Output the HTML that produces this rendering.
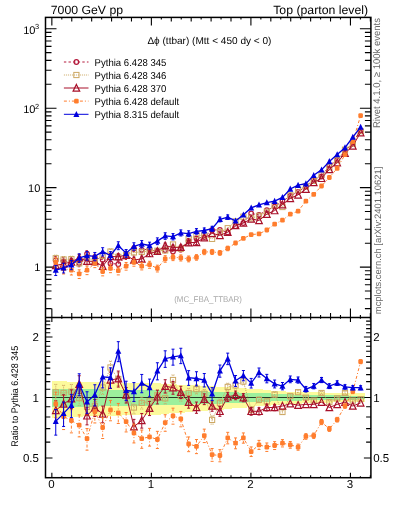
<!DOCTYPE html><html><head><meta charset="utf-8"><style>html,body{margin:0;padding:0;width:393px;height:512px;overflow:hidden;background:#fff}</style></head><body><svg width="393" height="512" viewBox="0 0 393 512" text-rendering="geometricPrecision" style="position:absolute;left:0;top:0;will-change:transform;font-family:'Liberation Sans', sans-serif">
<rect width="393" height="512" fill="#fff"/>
<g stroke="#000" stroke-width="1.5" fill="none">
<rect x="45.5" y="17.4" width="325.4" height="460.3"/>
<line x1="45.5" y1="317.5" x2="370.9" y2="317.5"/>
</g>
<path d="M51.85 17.40L51.85 25.40 M51.85 317.50L51.85 308.50 M51.85 317.50L51.85 322.00 M51.85 477.70L51.85 472.70 M61.80 17.40L61.80 19.40 M61.80 317.50L61.80 315.00 M61.80 317.50L61.80 318.85 M61.80 477.70L61.80 476.20 M71.76 17.40L71.76 21.40 M71.76 317.50L71.76 313.00 M71.76 317.50L71.76 319.75 M71.76 477.70L71.76 475.20 M81.71 17.40L81.71 19.40 M81.71 317.50L81.71 315.00 M81.71 317.50L81.71 318.85 M81.71 477.70L81.71 476.20 M91.66 17.40L91.66 21.40 M91.66 317.50L91.66 313.00 M91.66 317.50L91.66 319.75 M91.66 477.70L91.66 475.20 M101.62 17.40L101.62 19.40 M101.62 317.50L101.62 315.00 M101.62 317.50L101.62 318.85 M101.62 477.70L101.62 476.20 M111.57 17.40L111.57 21.40 M111.57 317.50L111.57 313.00 M111.57 317.50L111.57 319.75 M111.57 477.70L111.57 475.20 M121.52 17.40L121.52 19.40 M121.52 317.50L121.52 315.00 M121.52 317.50L121.52 318.85 M121.52 477.70L121.52 476.20 M131.47 17.40L131.47 21.40 M131.47 317.50L131.47 313.00 M131.47 317.50L131.47 319.75 M131.47 477.70L131.47 475.20 M141.43 17.40L141.43 19.40 M141.43 317.50L141.43 315.00 M141.43 317.50L141.43 318.85 M141.43 477.70L141.43 476.20 M151.38 17.40L151.38 25.40 M151.38 317.50L151.38 308.50 M151.38 317.50L151.38 322.00 M151.38 477.70L151.38 472.70 M161.33 17.40L161.33 19.40 M161.33 317.50L161.33 315.00 M161.33 317.50L161.33 318.85 M161.33 477.70L161.33 476.20 M171.29 17.40L171.29 21.40 M171.29 317.50L171.29 313.00 M171.29 317.50L171.29 319.75 M171.29 477.70L171.29 475.20 M181.24 17.40L181.24 19.40 M181.24 317.50L181.24 315.00 M181.24 317.50L181.24 318.85 M181.24 477.70L181.24 476.20 M191.19 17.40L191.19 21.40 M191.19 317.50L191.19 313.00 M191.19 317.50L191.19 319.75 M191.19 477.70L191.19 475.20 M201.15 17.40L201.15 19.40 M201.15 317.50L201.15 315.00 M201.15 317.50L201.15 318.85 M201.15 477.70L201.15 476.20 M211.10 17.40L211.10 21.40 M211.10 317.50L211.10 313.00 M211.10 317.50L211.10 319.75 M211.10 477.70L211.10 475.20 M221.05 17.40L221.05 19.40 M221.05 317.50L221.05 315.00 M221.05 317.50L221.05 318.85 M221.05 477.70L221.05 476.20 M231.00 17.40L231.00 21.40 M231.00 317.50L231.00 313.00 M231.00 317.50L231.00 319.75 M231.00 477.70L231.00 475.20 M240.96 17.40L240.96 19.40 M240.96 317.50L240.96 315.00 M240.96 317.50L240.96 318.85 M240.96 477.70L240.96 476.20 M250.91 17.40L250.91 25.40 M250.91 317.50L250.91 308.50 M250.91 317.50L250.91 322.00 M250.91 477.70L250.91 472.70 M260.86 17.40L260.86 19.40 M260.86 317.50L260.86 315.00 M260.86 317.50L260.86 318.85 M260.86 477.70L260.86 476.20 M270.82 17.40L270.82 21.40 M270.82 317.50L270.82 313.00 M270.82 317.50L270.82 319.75 M270.82 477.70L270.82 475.20 M280.77 17.40L280.77 19.40 M280.77 317.50L280.77 315.00 M280.77 317.50L280.77 318.85 M280.77 477.70L280.77 476.20 M290.72 17.40L290.72 21.40 M290.72 317.50L290.72 313.00 M290.72 317.50L290.72 319.75 M290.72 477.70L290.72 475.20 M300.68 17.40L300.68 19.40 M300.68 317.50L300.68 315.00 M300.68 317.50L300.68 318.85 M300.68 477.70L300.68 476.20 M310.63 17.40L310.63 21.40 M310.63 317.50L310.63 313.00 M310.63 317.50L310.63 319.75 M310.63 477.70L310.63 475.20 M320.58 17.40L320.58 19.40 M320.58 317.50L320.58 315.00 M320.58 317.50L320.58 318.85 M320.58 477.70L320.58 476.20 M330.53 17.40L330.53 21.40 M330.53 317.50L330.53 313.00 M330.53 317.50L330.53 319.75 M330.53 477.70L330.53 475.20 M340.49 17.40L340.49 19.40 M340.49 317.50L340.49 315.00 M340.49 317.50L340.49 318.85 M340.49 477.70L340.49 476.20 M350.44 17.40L350.44 25.40 M350.44 317.50L350.44 308.50 M350.44 317.50L350.44 322.00 M350.44 477.70L350.44 472.70 M360.39 17.40L360.39 19.40 M360.39 317.50L360.39 315.00 M360.39 317.50L360.39 318.85 M360.39 477.70L360.39 476.20 M370.35 17.40L370.35 21.40 M370.35 317.50L370.35 313.00 M370.35 317.50L370.35 319.75 M370.35 477.70L370.35 475.20 M45.50 308.64L51.50 308.64 M370.90 308.64L364.90 308.64 M45.50 298.72L51.50 298.72 M370.90 298.72L364.90 298.72 M45.50 291.02L51.50 291.02 M370.90 291.02L364.90 291.02 M45.50 284.73L51.50 284.73 M370.90 284.73L364.90 284.73 M45.50 279.41L51.50 279.41 M370.90 279.41L364.90 279.41 M45.50 274.80L51.50 274.80 M370.90 274.80L364.90 274.80 M45.50 270.74L51.50 270.74 M370.90 270.74L364.90 270.74 M45.50 267.10L56.50 267.10 M370.90 267.10L359.90 267.10 M45.50 243.18L51.50 243.18 M370.90 243.18L364.90 243.18 M45.50 229.19L51.50 229.19 M370.90 229.19L364.90 229.19 M45.50 219.27L51.50 219.27 M370.90 219.27L364.90 219.27 M45.50 211.57L51.50 211.57 M370.90 211.57L364.90 211.57 M45.50 205.28L51.50 205.28 M370.90 205.28L364.90 205.28 M45.50 199.96L51.50 199.96 M370.90 199.96L364.90 199.96 M45.50 195.35L51.50 195.35 M370.90 195.35L364.90 195.35 M45.50 191.29L51.50 191.29 M370.90 191.29L364.90 191.29 M45.50 187.65L56.50 187.65 M370.90 187.65L359.90 187.65 M45.50 163.73L51.50 163.73 M370.90 163.73L364.90 163.73 M45.50 149.74L51.50 149.74 M370.90 149.74L364.90 149.74 M45.50 139.82L51.50 139.82 M370.90 139.82L364.90 139.82 M45.50 132.12L51.50 132.12 M370.90 132.12L364.90 132.12 M45.50 125.83L51.50 125.83 M370.90 125.83L364.90 125.83 M45.50 120.51L51.50 120.51 M370.90 120.51L364.90 120.51 M45.50 115.90L51.50 115.90 M370.90 115.90L364.90 115.90 M45.50 111.84L51.50 111.84 M370.90 111.84L364.90 111.84 M45.50 108.20L56.50 108.20 M370.90 108.20L359.90 108.20 M45.50 84.28L51.50 84.28 M370.90 84.28L364.90 84.28 M45.50 70.29L51.50 70.29 M370.90 70.29L364.90 70.29 M45.50 60.37L51.50 60.37 M370.90 60.37L364.90 60.37 M45.50 52.67L51.50 52.67 M370.90 52.67L364.90 52.67 M45.50 46.38L51.50 46.38 M370.90 46.38L364.90 46.38 M45.50 41.06L51.50 41.06 M370.90 41.06L364.90 41.06 M45.50 36.45L51.50 36.45 M370.90 36.45L364.90 36.45 M45.50 32.39L51.50 32.39 M370.90 32.39L364.90 32.39 M45.50 28.75L56.50 28.75 M370.90 28.75L359.90 28.75 M45.50 477.49L50.30 477.49 M370.90 477.49L366.10 477.49 M45.50 458.01L52.50 458.01 M370.90 458.01L363.90 458.01 M45.50 442.09L50.30 442.09 M370.90 442.09L366.10 442.09 M45.50 428.64L50.30 428.64 M370.90 428.64L366.10 428.64 M45.50 416.98L50.30 416.98 M370.90 416.98L366.10 416.98 M45.50 406.70L50.30 406.70 M370.90 406.70L366.10 406.70 M45.50 397.50L52.50 397.50 M370.90 397.50L363.90 397.50 M45.50 389.18L50.30 389.18 M370.90 389.18L366.10 389.18 M45.50 381.58L50.30 381.58 M370.90 381.58L366.10 381.58 M45.50 374.60L50.30 374.60 M370.90 374.60L366.10 374.60 M45.50 368.13L50.30 368.13 M370.90 368.13L366.10 368.13 M45.50 362.11L50.30 362.11 M370.90 362.11L366.10 362.11 M45.50 356.47L50.30 356.47 M370.90 356.47L366.10 356.47 M45.50 351.18L50.30 351.18 M370.90 351.18L366.10 351.18 M45.50 346.19L50.30 346.19 M370.90 346.19L366.10 346.19 M45.50 341.47L50.30 341.47 M370.90 341.47L366.10 341.47 M45.50 336.99L52.50 336.99 M370.90 336.99L363.90 336.99 M45.50 332.73L50.30 332.73 M370.90 332.73L366.10 332.73 M45.50 328.67L50.30 328.67 M370.90 328.67L366.10 328.67 M45.50 324.79L50.30 324.79 M370.90 324.79L366.10 324.79 M45.50 321.08L50.30 321.08 M370.90 321.08L366.10 321.08 M45.50 317.51L50.30 317.51 M370.90 317.51L366.10 317.51" stroke="#000" stroke-width="1.1" fill="none"/>
<text x="50.8" y="13.8" font-size="12" text-anchor="start" fill="#000" textLength="72.3" lengthAdjust="spacingAndGlyphs">7000 GeV pp</text>
<text x="368.2" y="13.8" font-size="12" text-anchor="end" fill="#000" textLength="95" lengthAdjust="spacingAndGlyphs">Top (parton level)</text>
<text x="35.5" y="33.85" font-size="11" text-anchor="end" fill="#000" >10</text>
<text x="39.2" y="29.35" font-size="7.4" text-anchor="end" fill="#000" >3</text>
<text x="35.5" y="113.30000000000001" font-size="11" text-anchor="end" fill="#000" >10</text>
<text x="39.2" y="108.80000000000001" font-size="7.4" text-anchor="end" fill="#000" >2</text>
<text x="40.3" y="191.95000000000005" font-size="11" text-anchor="end" fill="#000" >10</text>
<text x="40.3" y="271.1" font-size="11" text-anchor="end" fill="#000" >1</text>
<text x="38.9" y="341.3929708715398" font-size="11.5" text-anchor="end" fill="#000" >2</text>
<text x="373.2" y="341.3929708715398" font-size="11.5" text-anchor="start" fill="#000" >2</text>
<text x="38.9" y="401.9" font-size="11.5" text-anchor="end" fill="#000" >1</text>
<text x="373.2" y="401.9" font-size="11.5" text-anchor="start" fill="#000" >1</text>
<text x="38.9" y="462.4070291284602" font-size="11.5" text-anchor="end" fill="#000" >0.5</text>
<text x="373.2" y="462.4070291284602" font-size="11.5" text-anchor="start" fill="#000" >0.5</text>
<text x="51.45" y="488.4" font-size="11.5" text-anchor="middle" fill="#000" >0</text>
<text x="150.98" y="488.4" font-size="11.5" text-anchor="middle" fill="#000" >1</text>
<text x="250.51" y="488.4" font-size="11.5" text-anchor="middle" fill="#000" >2</text>
<text x="350.0400000000001" y="488.4" font-size="11.5" text-anchor="middle" fill="#000" >3</text>
<text x="147.4" y="43.6" font-size="10" textLength="124" lengthAdjust="spacingAndGlyphs">Δϕ (ttbar) (Mtt &lt; 450 dy &lt; 0)</text>
<text x="174.2" y="301.9" font-size="8.4" text-anchor="start" fill="#a8a8a8" textLength="67.8" lengthAdjust="spacingAndGlyphs">(MC_FBA_TTBAR)</text>
<text transform="translate(380.3 128) rotate(-90)" font-size="9.8" fill="#666" textLength="110" lengthAdjust="spacingAndGlyphs">Rivet 4.1.0, ≥ 100k events</text>
<text transform="translate(381.3 314.2) rotate(-90)" font-size="9.3" fill="#666" textLength="147.5" lengthAdjust="spacingAndGlyphs">mcplots.cern.ch [arXiv:2401.10621]</text>
<text transform="translate(18.3 446.8) rotate(-90)" font-size="9.6" fill="#000" textLength="101" lengthAdjust="spacingAndGlyphs">Ratio to Pythia 6.428 345</text>
<path d="M51.85 381.22H59.67V417.53H51.85ZM59.67 381.40H67.48V417.25H59.67ZM67.48 381.58H75.30V416.98H67.48ZM75.30 381.77H83.12V416.71H75.30ZM83.12 381.95H90.94V416.44H83.12ZM90.94 382.09H98.75V416.23H90.94ZM98.75 382.23H106.57V416.03H98.75ZM106.57 382.36H114.39V415.82H106.57ZM114.39 382.50H122.20V415.62H114.39ZM122.20 382.64H130.02V415.42H122.20ZM130.02 382.78H137.84V415.21H130.02ZM137.84 382.92H145.65V415.01H137.84ZM145.65 383.06H153.47V414.81H145.65ZM153.47 383.20H161.29V414.61H153.47ZM161.29 383.65H169.11V413.97H161.29ZM169.10 384.11H176.92V413.32H169.10ZM176.92 384.57H184.74V412.69H176.92ZM184.74 385.03H192.56V412.06H184.74ZM192.56 385.49H200.37V411.43H192.56ZM200.37 385.95H208.19V410.81H200.37ZM208.19 386.42H216.01V410.19H208.19ZM216.01 386.89H223.82V409.58H216.01ZM223.82 387.37H231.64V408.97H223.82ZM231.64 387.84H239.46V408.36H231.64ZM239.46 388.37H247.28V407.70H239.46ZM247.28 388.90H255.09V407.04H247.28ZM255.09 389.43H262.91V406.39H255.09ZM262.91 389.97H270.73V405.75H262.91ZM270.73 390.51H278.54V405.10H270.73ZM278.54 391.05H286.36V404.47H278.54ZM286.36 391.59H294.18V403.83H286.36ZM294.18 391.80H301.99V403.60H294.18ZM301.99 392.00H309.81V403.37H301.99ZM309.81 392.21H317.63V403.13H309.81ZM317.63 392.41H325.45V402.90H317.63ZM325.45 392.62H333.26V402.67H325.45ZM333.26 392.83H341.08V402.44H333.26ZM341.08 392.96H348.90V402.28H341.08ZM348.90 393.10H356.71V402.13H348.90ZM356.71 393.24H364.53V401.98H356.71Z" fill="#fcfa9c" shape-rendering="crispEdges"/>
<path d="M51.85 388.86H59.67V407.09H51.85ZM59.67 388.94H67.48V406.99H59.67ZM67.48 389.02H75.30V406.89H67.48ZM75.30 389.10H83.12V406.79H75.30ZM83.12 389.18H90.94V406.70H83.12ZM90.94 389.29H98.75V406.56H90.94ZM98.75 389.40H106.57V406.43H98.75ZM106.57 389.51H114.39V406.29H106.57ZM114.39 389.63H122.20V406.16H114.39ZM122.20 389.74H130.02V406.02H122.20ZM130.02 389.85H137.84V405.89H130.02ZM137.84 389.96H145.65V405.75H137.84ZM145.65 390.07H153.47V405.62H145.65ZM153.47 390.19H161.29V405.48H153.47ZM161.29 390.39H169.11V405.24H161.29ZM169.10 390.59H176.92V405.00H169.10ZM176.92 390.80H184.74V404.76H176.92ZM184.74 391.01H192.56V404.52H184.74ZM192.56 391.21H200.37V404.28H192.56ZM200.37 391.42H208.19V404.04H200.37ZM208.19 391.62H216.01V403.80H208.19ZM216.01 391.83H223.82V403.56H216.01ZM223.82 392.04H231.64V403.32H223.82ZM231.64 392.25H239.46V403.09H231.64ZM239.46 392.55H247.28V402.74H239.46ZM247.28 392.86H255.09V402.40H247.28ZM255.09 393.17H262.91V402.06H255.09ZM262.91 393.48H270.73V401.72H262.91ZM270.73 393.79H278.54V401.38H270.73ZM278.54 394.10H286.36V401.04H278.54ZM286.36 394.41H294.18V400.70H286.36ZM294.18 394.57H301.99V400.53H294.18ZM301.99 394.72H309.81V400.37H301.99ZM309.81 394.88H317.63V400.20H309.81ZM317.63 395.03H325.45V400.04H317.63ZM325.45 395.19H333.26V399.87H325.45ZM333.26 395.34H341.08V399.71H333.26ZM341.08 395.43H348.90V399.62H341.08ZM348.90 395.51H356.71V399.53H348.90ZM356.71 395.60H364.53V399.44H356.71Z" fill="#9cf09c" shape-rendering="crispEdges"/>
<line x1="45.5" y1="397.5" x2="370.9" y2="397.5" stroke="#000" stroke-opacity="0.75" stroke-width="1.2"/>
<clipPath id="cm"><rect x="45.5" y="17.4" width="325.4" height="300.1"/></clipPath>
<clipPath id="cr"><rect x="45.5" y="317.5" width="325.4" height="160.2"/></clipPath>
<g clip-path="url(#cm)">
<path d="M55.76 256.49V264.58M54.26 256.49h3M54.26 264.58h3M63.58 257.66V265.37M62.08 257.66h3M62.08 265.37h3M71.39 257.93V265.26M69.89 257.93h3M69.89 265.26h3M79.21 259.80V266.75M77.71 259.80h3M77.71 266.75h3M87.03 250.65V257.48M85.53 250.65h3M85.53 257.48h3M94.84 254.31V261.01M93.34 254.31h3M93.34 261.01h3M102.66 256.57V263.15M101.16 256.57h3M101.16 263.15h3M110.48 260.33V266.78M108.98 260.33h3M108.98 266.78h3M118.29 261.18V267.51M116.79 261.18h3M116.79 267.51h3M126.11 253.26V259.41M124.61 253.26h3M124.61 259.41h3M133.93 245.65V251.61M132.43 245.65h3M132.43 251.61h3M141.75 247.03V252.81M140.25 247.03h3M140.25 252.81h3M149.56 246.61V252.21M148.06 246.61h3M148.06 252.21h3M157.38 249.00V254.42M155.88 249.00h3M155.88 254.42h3M165.20 247.58V252.82M163.70 247.58h3M163.70 252.82h3M173.01 248.96V254.02M171.51 248.96h3M171.51 254.02h3M180.83 247.06V251.91M179.33 247.06h3M179.33 251.91h3M188.65 238.65V243.31M187.15 238.65h3M187.15 243.31h3M196.46 236.25V240.70M194.96 236.25h3M194.96 240.70h3" stroke="#b41a3c" stroke-width="1" fill="none" stroke-dasharray="2.4,2.2"/>
<path d="M55.76 260.30L63.58 261.30L71.39 261.40L79.21 263.10L87.03 253.90L94.84 257.50L102.66 259.70L110.48 263.40L118.29 264.20L126.11 256.20L133.93 248.50L141.75 249.80L149.56 249.30L157.38 251.60L165.20 250.10L173.01 251.40L180.83 249.40L188.65 240.90L196.46 238.40L204.28 237.10L212.10 230.00L219.92 229.90L227.73 232.40L235.55 226.20L243.37 223.00L251.18 213.40L259.00 215.00L266.82 210.20L274.63 206.60L282.45 201.30L290.27 195.90L298.09 191.80L305.90 186.40L313.72 179.60L321.54 176.50L329.35 165.50L337.17 159.90L344.99 151.50L352.80 142.50L360.62 130.50" stroke="#b41a3c" stroke-width="1" fill="none" stroke-dasharray="2.4,2.2"/>
<circle cx="55.76" cy="260.30" r="2.3" fill="none" stroke="#b41a3c" stroke-width="1.2"/><circle cx="63.58" cy="261.30" r="2.3" fill="none" stroke="#b41a3c" stroke-width="1.2"/><circle cx="71.39" cy="261.40" r="2.3" fill="none" stroke="#b41a3c" stroke-width="1.2"/><circle cx="79.21" cy="263.10" r="2.3" fill="none" stroke="#b41a3c" stroke-width="1.2"/><circle cx="87.03" cy="253.90" r="2.3" fill="none" stroke="#b41a3c" stroke-width="1.2"/><circle cx="94.84" cy="257.50" r="2.3" fill="none" stroke="#b41a3c" stroke-width="1.2"/><circle cx="102.66" cy="259.70" r="2.3" fill="none" stroke="#b41a3c" stroke-width="1.2"/><circle cx="110.48" cy="263.40" r="2.3" fill="none" stroke="#b41a3c" stroke-width="1.2"/><circle cx="118.29" cy="264.20" r="2.3" fill="none" stroke="#b41a3c" stroke-width="1.2"/><circle cx="126.11" cy="256.20" r="2.3" fill="none" stroke="#b41a3c" stroke-width="1.2"/><circle cx="133.93" cy="248.50" r="2.3" fill="none" stroke="#b41a3c" stroke-width="1.2"/><circle cx="141.75" cy="249.80" r="2.3" fill="none" stroke="#b41a3c" stroke-width="1.2"/><circle cx="149.56" cy="249.30" r="2.3" fill="none" stroke="#b41a3c" stroke-width="1.2"/><circle cx="157.38" cy="251.60" r="2.3" fill="none" stroke="#b41a3c" stroke-width="1.2"/><circle cx="165.20" cy="250.10" r="2.3" fill="none" stroke="#b41a3c" stroke-width="1.2"/><circle cx="173.01" cy="251.40" r="2.3" fill="none" stroke="#b41a3c" stroke-width="1.2"/><circle cx="180.83" cy="249.40" r="2.3" fill="none" stroke="#b41a3c" stroke-width="1.2"/><circle cx="188.65" cy="240.90" r="2.3" fill="none" stroke="#b41a3c" stroke-width="1.2"/><circle cx="196.46" cy="238.40" r="2.3" fill="none" stroke="#b41a3c" stroke-width="1.2"/><circle cx="204.28" cy="237.10" r="2.3" fill="none" stroke="#b41a3c" stroke-width="1.2"/><circle cx="212.10" cy="230.00" r="2.3" fill="none" stroke="#b41a3c" stroke-width="1.2"/><circle cx="219.92" cy="229.90" r="2.3" fill="none" stroke="#b41a3c" stroke-width="1.2"/><circle cx="227.73" cy="232.40" r="2.3" fill="none" stroke="#b41a3c" stroke-width="1.2"/><circle cx="235.55" cy="226.20" r="2.3" fill="none" stroke="#b41a3c" stroke-width="1.2"/><circle cx="243.37" cy="223.00" r="2.3" fill="none" stroke="#b41a3c" stroke-width="1.2"/><circle cx="251.18" cy="213.40" r="2.3" fill="none" stroke="#b41a3c" stroke-width="1.2"/><circle cx="259.00" cy="215.00" r="2.3" fill="none" stroke="#b41a3c" stroke-width="1.2"/><circle cx="266.82" cy="210.20" r="2.3" fill="none" stroke="#b41a3c" stroke-width="1.2"/><circle cx="274.63" cy="206.60" r="2.3" fill="none" stroke="#b41a3c" stroke-width="1.2"/><circle cx="282.45" cy="201.30" r="2.3" fill="none" stroke="#b41a3c" stroke-width="1.2"/><circle cx="290.27" cy="195.90" r="2.3" fill="none" stroke="#b41a3c" stroke-width="1.2"/><circle cx="298.09" cy="191.80" r="2.3" fill="none" stroke="#b41a3c" stroke-width="1.2"/><circle cx="305.90" cy="186.40" r="2.3" fill="none" stroke="#b41a3c" stroke-width="1.2"/><circle cx="313.72" cy="179.60" r="2.3" fill="none" stroke="#b41a3c" stroke-width="1.2"/><circle cx="321.54" cy="176.50" r="2.3" fill="none" stroke="#b41a3c" stroke-width="1.2"/><circle cx="329.35" cy="165.50" r="2.3" fill="none" stroke="#b41a3c" stroke-width="1.2"/><circle cx="337.17" cy="159.90" r="2.3" fill="none" stroke="#b41a3c" stroke-width="1.2"/><circle cx="344.99" cy="151.50" r="2.3" fill="none" stroke="#b41a3c" stroke-width="1.2"/><circle cx="352.80" cy="142.50" r="2.3" fill="none" stroke="#b41a3c" stroke-width="1.2"/><circle cx="360.62" cy="130.50" r="2.3" fill="none" stroke="#b41a3c" stroke-width="1.2"/>
</g>
<g clip-path="url(#cm)">
<path d="M55.76 255.11V261.69M54.26 255.11h3M54.26 261.69h3M63.58 256.49V262.76M62.08 256.49h3M62.08 262.76h3M71.39 256.26V262.22M69.89 256.26h3M69.89 262.22h3M79.21 260.63V266.28M77.71 260.63h3M77.71 266.28h3M87.03 254.95V260.50M85.53 254.95h3M85.53 260.50h3M94.84 258.24V263.69M93.34 258.24h3M93.34 263.69h3M102.66 253.18V258.52M101.16 253.18h3M101.16 258.52h3M110.48 249.02V254.26M108.98 249.02h3M108.98 254.26h3M118.29 254.41V259.55M116.79 254.41h3M116.79 259.55h3M126.11 252.41V257.40M124.61 252.41h3M124.61 257.40h3M133.93 250.12V254.96M132.43 250.12h3M132.43 254.96h3M141.75 249.67V254.36M140.25 249.67h3M140.25 254.36h3M149.56 248.64V253.19M148.06 248.64h3M148.06 253.19h3M157.38 248.60V253.00M155.88 248.60h3M155.88 253.00h3" stroke="#cca762" stroke-width="1" fill="none" stroke-dasharray="1,1"/>
<path d="M55.76 258.24L63.58 259.48L71.39 259.11L79.21 263.34L87.03 257.62L94.84 260.86L102.66 255.75L110.48 251.54L118.29 256.89L126.11 254.82L133.93 252.45L141.75 251.93L149.56 250.84L157.38 250.73L165.20 250.42L173.01 244.48L180.83 248.81L188.65 239.12L196.46 235.12L204.28 235.60L212.10 238.85L219.92 232.03L227.73 228.21L235.55 221.38L243.37 216.68L251.18 218.26L259.00 215.91L266.82 211.74L274.63 205.41L282.45 207.03L290.27 195.31L298.09 189.71L305.90 186.44L313.72 180.83L321.54 174.72L329.35 167.32L337.17 160.22L344.99 149.72L352.80 143.73L360.62 131.13" stroke="#cca762" stroke-width="1" fill="none" stroke-dasharray="1,1"/>
<rect x="53.16" y="255.64" width="5.2" height="5.2" fill="none" stroke="#cca762" stroke-width="1"/><rect x="60.98" y="256.88" width="5.2" height="5.2" fill="none" stroke="#cca762" stroke-width="1"/><rect x="68.79" y="256.51" width="5.2" height="5.2" fill="none" stroke="#cca762" stroke-width="1"/><rect x="76.61" y="260.74" width="5.2" height="5.2" fill="none" stroke="#cca762" stroke-width="1"/><rect x="84.43" y="255.02" width="5.2" height="5.2" fill="none" stroke="#cca762" stroke-width="1"/><rect x="92.24" y="258.26" width="5.2" height="5.2" fill="none" stroke="#cca762" stroke-width="1"/><rect x="100.06" y="253.15" width="5.2" height="5.2" fill="none" stroke="#cca762" stroke-width="1"/><rect x="107.88" y="248.94" width="5.2" height="5.2" fill="none" stroke="#cca762" stroke-width="1"/><rect x="115.69" y="254.29" width="5.2" height="5.2" fill="none" stroke="#cca762" stroke-width="1"/><rect x="123.51" y="252.22" width="5.2" height="5.2" fill="none" stroke="#cca762" stroke-width="1"/><rect x="131.33" y="249.85" width="5.2" height="5.2" fill="none" stroke="#cca762" stroke-width="1"/><rect x="139.15" y="249.33" width="5.2" height="5.2" fill="none" stroke="#cca762" stroke-width="1"/><rect x="146.96" y="248.24" width="5.2" height="5.2" fill="none" stroke="#cca762" stroke-width="1"/><rect x="154.78" y="248.13" width="5.2" height="5.2" fill="none" stroke="#cca762" stroke-width="1"/><rect x="162.60" y="247.82" width="5.2" height="5.2" fill="none" stroke="#cca762" stroke-width="1"/><rect x="170.41" y="241.88" width="5.2" height="5.2" fill="none" stroke="#cca762" stroke-width="1"/><rect x="178.23" y="246.21" width="5.2" height="5.2" fill="none" stroke="#cca762" stroke-width="1"/><rect x="186.05" y="236.52" width="5.2" height="5.2" fill="none" stroke="#cca762" stroke-width="1"/><rect x="193.86" y="232.52" width="5.2" height="5.2" fill="none" stroke="#cca762" stroke-width="1"/><rect x="201.68" y="233.00" width="5.2" height="5.2" fill="none" stroke="#cca762" stroke-width="1"/><rect x="209.50" y="236.25" width="5.2" height="5.2" fill="none" stroke="#cca762" stroke-width="1"/><rect x="217.32" y="229.43" width="5.2" height="5.2" fill="none" stroke="#cca762" stroke-width="1"/><rect x="225.13" y="225.61" width="5.2" height="5.2" fill="none" stroke="#cca762" stroke-width="1"/><rect x="232.95" y="218.78" width="5.2" height="5.2" fill="none" stroke="#cca762" stroke-width="1"/><rect x="240.77" y="214.08" width="5.2" height="5.2" fill="none" stroke="#cca762" stroke-width="1"/><rect x="248.58" y="215.66" width="5.2" height="5.2" fill="none" stroke="#cca762" stroke-width="1"/><rect x="256.40" y="213.31" width="5.2" height="5.2" fill="none" stroke="#cca762" stroke-width="1"/><rect x="264.22" y="209.14" width="5.2" height="5.2" fill="none" stroke="#cca762" stroke-width="1"/><rect x="272.03" y="202.81" width="5.2" height="5.2" fill="none" stroke="#cca762" stroke-width="1"/><rect x="279.85" y="204.43" width="5.2" height="5.2" fill="none" stroke="#cca762" stroke-width="1"/><rect x="287.67" y="192.71" width="5.2" height="5.2" fill="none" stroke="#cca762" stroke-width="1"/><rect x="295.49" y="187.11" width="5.2" height="5.2" fill="none" stroke="#cca762" stroke-width="1"/><rect x="303.30" y="183.84" width="5.2" height="5.2" fill="none" stroke="#cca762" stroke-width="1"/><rect x="311.12" y="178.23" width="5.2" height="5.2" fill="none" stroke="#cca762" stroke-width="1"/><rect x="318.94" y="172.12" width="5.2" height="5.2" fill="none" stroke="#cca762" stroke-width="1"/><rect x="326.75" y="164.72" width="5.2" height="5.2" fill="none" stroke="#cca762" stroke-width="1"/><rect x="334.57" y="157.62" width="5.2" height="5.2" fill="none" stroke="#cca762" stroke-width="1"/><rect x="342.39" y="147.12" width="5.2" height="5.2" fill="none" stroke="#cca762" stroke-width="1"/><rect x="350.20" y="141.13" width="5.2" height="5.2" fill="none" stroke="#cca762" stroke-width="1"/><rect x="358.02" y="128.53" width="5.2" height="5.2" fill="none" stroke="#cca762" stroke-width="1"/>
</g>
<g clip-path="url(#cr)">
<path d="M55.76 384.38V401.02M54.26 384.38h3M54.26 401.02h3M63.58 385.33V401.19M62.08 385.33h3M62.08 401.19h3M71.39 384.49V399.57M69.89 384.49h3M69.89 399.57h3M79.21 391.24V405.54M77.71 391.24h3M77.71 405.54h3M87.03 400.16V414.20M85.53 400.16h3M85.53 414.20h3M94.84 399.38V413.16M93.34 399.38h3M93.34 413.16h3M102.66 381.00V394.52M101.16 381.00h3M101.16 394.52h3M110.48 361.12V374.38M108.98 361.12h3M108.98 374.38h3M118.29 372.74V385.74M116.79 372.74h3M116.79 385.74h3M126.11 387.91V400.54M124.61 387.91h3M124.61 400.54h3M133.93 401.59V413.84M132.43 401.59h3M132.43 413.84h3M141.75 397.16V409.04M140.25 397.16h3M140.25 409.04h3M149.56 395.83V407.35M148.06 395.83h3M148.06 407.35h3M157.38 389.91V401.05M155.88 389.91h3M155.88 401.05h3M165.20 393.08V403.85M163.70 393.08h3M163.70 403.85h3M173.01 374.95V385.35M171.51 374.95h3M171.51 385.35h3M180.83 391.15V401.13M179.33 391.15h3M179.33 401.13h3M188.65 388.35V397.92M187.15 388.35h3M187.15 397.92h3M196.46 384.74V393.90M194.96 384.74h3M194.96 393.90h3M204.28 389.44V398.18M202.78 389.44h3M202.78 398.18h3M212.10 415.84V424.16M210.60 415.84h3M210.60 424.16h3M219.92 399.04V406.94M218.42 399.04h3M218.42 406.94h3M227.73 383.24V390.72M226.23 383.24h3M226.23 390.72h3M235.55 381.84V388.91M234.05 381.84h3M234.05 388.91h3M243.37 378.24V384.89M241.87 378.24h3M241.87 384.89h3M251.18 406.74V412.98M249.68 406.74h3M249.68 412.98h3M259.00 396.92V402.78M257.50 396.92h3M257.50 402.78h3M266.82 398.69V404.19M265.32 398.69h3M265.32 404.19h3M274.63 391.97V397.10M273.13 391.97h3M273.13 397.10h3M282.45 409.66V414.41M280.95 409.66h3M280.95 414.41h3M290.27 393.84V398.22M288.77 393.84h3M288.77 398.22h3M298.09 390.22V394.23M296.59 390.22h3M296.59 394.23h3M305.90 395.80V399.44M304.40 395.80h3M304.40 399.44h3M313.72 398.87V402.36M312.22 398.87h3M312.22 402.36h3M321.54 391.34V394.69M320.04 391.34h3M320.04 394.69h3M329.35 400.52V403.71M327.85 400.52h3M327.85 403.71h3M337.17 396.79V399.84M335.67 396.79h3M335.67 399.84h3M344.99 391.56V394.46M343.49 391.56h3M343.49 394.46h3M352.80 399.24V401.99M351.30 399.24h3M351.30 401.99h3M360.62 397.81V400.41M359.12 397.81h3M359.12 400.41h3" stroke="#cca762" stroke-width="1" fill="none" stroke-dasharray="1,1"/>
<path d="M55.76 392.30L63.58 392.90L71.39 391.70L79.21 398.10L87.03 406.90L94.84 406.00L102.66 387.50L110.48 367.50L118.29 379.00L126.11 394.00L133.93 407.50L141.75 402.90L149.56 401.40L157.38 395.30L165.20 398.30L173.01 380.00L180.83 396.00L188.65 393.00L196.46 389.20L204.28 393.70L212.10 419.90L219.92 402.90L227.73 386.90L235.55 385.30L243.37 381.50L251.18 409.80L259.00 399.80L266.82 401.40L274.63 394.50L282.45 412.00L290.27 396.00L298.09 392.20L305.90 397.60L313.72 400.60L321.54 393.00L329.35 402.10L337.17 398.30L344.99 393.00L352.80 400.60L360.62 399.10" stroke="#cca762" stroke-width="1" fill="none" stroke-dasharray="1,1"/>
<rect x="53.16" y="389.70" width="5.2" height="5.2" fill="none" stroke="#cca762" stroke-width="1"/><rect x="60.98" y="390.30" width="5.2" height="5.2" fill="none" stroke="#cca762" stroke-width="1"/><rect x="68.79" y="389.10" width="5.2" height="5.2" fill="none" stroke="#cca762" stroke-width="1"/><rect x="76.61" y="395.50" width="5.2" height="5.2" fill="none" stroke="#cca762" stroke-width="1"/><rect x="84.43" y="404.30" width="5.2" height="5.2" fill="none" stroke="#cca762" stroke-width="1"/><rect x="92.24" y="403.40" width="5.2" height="5.2" fill="none" stroke="#cca762" stroke-width="1"/><rect x="100.06" y="384.90" width="5.2" height="5.2" fill="none" stroke="#cca762" stroke-width="1"/><rect x="107.88" y="364.90" width="5.2" height="5.2" fill="none" stroke="#cca762" stroke-width="1"/><rect x="115.69" y="376.40" width="5.2" height="5.2" fill="none" stroke="#cca762" stroke-width="1"/><rect x="123.51" y="391.40" width="5.2" height="5.2" fill="none" stroke="#cca762" stroke-width="1"/><rect x="131.33" y="404.90" width="5.2" height="5.2" fill="none" stroke="#cca762" stroke-width="1"/><rect x="139.15" y="400.30" width="5.2" height="5.2" fill="none" stroke="#cca762" stroke-width="1"/><rect x="146.96" y="398.80" width="5.2" height="5.2" fill="none" stroke="#cca762" stroke-width="1"/><rect x="154.78" y="392.70" width="5.2" height="5.2" fill="none" stroke="#cca762" stroke-width="1"/><rect x="162.60" y="395.70" width="5.2" height="5.2" fill="none" stroke="#cca762" stroke-width="1"/><rect x="170.41" y="377.40" width="5.2" height="5.2" fill="none" stroke="#cca762" stroke-width="1"/><rect x="178.23" y="393.40" width="5.2" height="5.2" fill="none" stroke="#cca762" stroke-width="1"/><rect x="186.05" y="390.40" width="5.2" height="5.2" fill="none" stroke="#cca762" stroke-width="1"/><rect x="193.86" y="386.60" width="5.2" height="5.2" fill="none" stroke="#cca762" stroke-width="1"/><rect x="201.68" y="391.10" width="5.2" height="5.2" fill="none" stroke="#cca762" stroke-width="1"/><rect x="209.50" y="417.30" width="5.2" height="5.2" fill="none" stroke="#cca762" stroke-width="1"/><rect x="217.32" y="400.30" width="5.2" height="5.2" fill="none" stroke="#cca762" stroke-width="1"/><rect x="225.13" y="384.30" width="5.2" height="5.2" fill="none" stroke="#cca762" stroke-width="1"/><rect x="232.95" y="382.70" width="5.2" height="5.2" fill="none" stroke="#cca762" stroke-width="1"/><rect x="240.77" y="378.90" width="5.2" height="5.2" fill="none" stroke="#cca762" stroke-width="1"/><rect x="248.58" y="407.20" width="5.2" height="5.2" fill="none" stroke="#cca762" stroke-width="1"/><rect x="256.40" y="397.20" width="5.2" height="5.2" fill="none" stroke="#cca762" stroke-width="1"/><rect x="264.22" y="398.80" width="5.2" height="5.2" fill="none" stroke="#cca762" stroke-width="1"/><rect x="272.03" y="391.90" width="5.2" height="5.2" fill="none" stroke="#cca762" stroke-width="1"/><rect x="279.85" y="409.40" width="5.2" height="5.2" fill="none" stroke="#cca762" stroke-width="1"/><rect x="287.67" y="393.40" width="5.2" height="5.2" fill="none" stroke="#cca762" stroke-width="1"/><rect x="295.49" y="389.60" width="5.2" height="5.2" fill="none" stroke="#cca762" stroke-width="1"/><rect x="303.30" y="395.00" width="5.2" height="5.2" fill="none" stroke="#cca762" stroke-width="1"/><rect x="311.12" y="398.00" width="5.2" height="5.2" fill="none" stroke="#cca762" stroke-width="1"/><rect x="318.94" y="390.40" width="5.2" height="5.2" fill="none" stroke="#cca762" stroke-width="1"/><rect x="326.75" y="399.50" width="5.2" height="5.2" fill="none" stroke="#cca762" stroke-width="1"/><rect x="334.57" y="395.70" width="5.2" height="5.2" fill="none" stroke="#cca762" stroke-width="1"/><rect x="342.39" y="390.40" width="5.2" height="5.2" fill="none" stroke="#cca762" stroke-width="1"/><rect x="350.20" y="398.00" width="5.2" height="5.2" fill="none" stroke="#cca762" stroke-width="1"/><rect x="358.02" y="396.50" width="5.2" height="5.2" fill="none" stroke="#cca762" stroke-width="1"/>
</g>
<g clip-path="url(#cm)">
<path d="M55.76 261.59V269.68M54.26 261.59h3M54.26 269.68h3M63.58 260.23V267.94M62.08 260.23h3M62.08 267.94h3M71.39 258.40V265.74M69.89 258.40h3M69.89 265.74h3M79.21 254.50V261.46M77.71 254.50h3M77.71 261.46h3M87.03 257.89V264.72M85.53 257.89h3M85.53 264.72h3M94.84 258.30V265.01M93.34 258.30h3M93.34 265.01h3M102.66 263.09V269.67M101.16 263.09h3M101.16 269.67h3M110.48 253.37V259.82M108.98 253.37h3M108.98 259.82h3M118.29 253.75V260.08M116.79 253.75h3M116.79 260.08h3M126.11 252.24V258.38M124.61 252.24h3M124.61 258.38h3M133.93 257.15V263.11M132.43 257.15h3M132.43 263.11h3M141.75 256.12V261.90M140.25 256.12h3M140.25 261.90h3M149.56 250.84V256.44M148.06 250.84h3M148.06 256.44h3M157.38 248.72V254.14M155.88 248.72h3M155.88 254.14h3M165.20 243.07V248.31M163.70 243.07h3M163.70 248.31h3M173.01 245.05V250.11M171.51 245.05h3M171.51 250.11h3M180.83 244.96V249.82M179.33 244.96h3M179.33 249.82h3M188.65 240.47V245.12M187.15 240.47h3M187.15 245.12h3M196.46 240.20V244.65M194.96 240.20h3M194.96 244.65h3" stroke="#a8102a" stroke-width="1" fill="none"/>
<path d="M55.76 265.40L63.58 263.87L71.39 261.87L79.21 257.80L87.03 261.13L94.84 261.49L102.66 266.22L110.48 256.44L118.29 256.77L126.11 255.17L133.93 260.00L141.75 258.89L149.56 253.53L157.38 251.32L165.20 245.59L173.01 247.49L180.83 247.31L188.65 242.72L196.46 242.35L204.28 237.73L212.10 233.36L219.92 235.35L227.73 232.12L235.55 225.33L243.37 223.04L251.18 218.85L259.00 220.45L266.82 214.15L274.63 210.55L282.45 204.66L290.27 198.35L298.09 194.84L305.90 189.13L313.72 182.33L321.54 178.32L329.35 169.45L337.17 162.63L344.99 153.32L352.80 145.86L360.62 132.63" stroke="#a8102a" stroke-width="1" fill="none"/>
<path d="M55.76 261.80L59.06 268.60L52.46 268.60Z" fill="none" stroke="#a8102a" stroke-width="1.2"/><path d="M63.58 260.27L66.88 267.07L60.28 267.07Z" fill="none" stroke="#a8102a" stroke-width="1.2"/><path d="M71.39 258.27L74.69 265.07L68.09 265.07Z" fill="none" stroke="#a8102a" stroke-width="1.2"/><path d="M79.21 254.20L82.51 261.00L75.91 261.00Z" fill="none" stroke="#a8102a" stroke-width="1.2"/><path d="M87.03 257.53L90.33 264.33L83.73 264.33Z" fill="none" stroke="#a8102a" stroke-width="1.2"/><path d="M94.84 257.89L98.14 264.69L91.54 264.69Z" fill="none" stroke="#a8102a" stroke-width="1.2"/><path d="M102.66 262.62L105.96 269.42L99.36 269.42Z" fill="none" stroke="#a8102a" stroke-width="1.2"/><path d="M110.48 252.84L113.78 259.64L107.18 259.64Z" fill="none" stroke="#a8102a" stroke-width="1.2"/><path d="M118.29 253.17L121.59 259.97L114.99 259.97Z" fill="none" stroke="#a8102a" stroke-width="1.2"/><path d="M126.11 251.57L129.41 258.37L122.81 258.37Z" fill="none" stroke="#a8102a" stroke-width="1.2"/><path d="M133.93 256.40L137.23 263.20L130.63 263.20Z" fill="none" stroke="#a8102a" stroke-width="1.2"/><path d="M141.75 255.29L145.05 262.09L138.45 262.09Z" fill="none" stroke="#a8102a" stroke-width="1.2"/><path d="M149.56 249.93L152.86 256.73L146.26 256.73Z" fill="none" stroke="#a8102a" stroke-width="1.2"/><path d="M157.38 247.72L160.68 254.52L154.08 254.52Z" fill="none" stroke="#a8102a" stroke-width="1.2"/><path d="M165.20 241.99L168.50 248.79L161.90 248.79Z" fill="none" stroke="#a8102a" stroke-width="1.2"/><path d="M173.01 243.89L176.31 250.69L169.71 250.69Z" fill="none" stroke="#a8102a" stroke-width="1.2"/><path d="M180.83 243.71L184.13 250.51L177.53 250.51Z" fill="none" stroke="#a8102a" stroke-width="1.2"/><path d="M188.65 239.12L191.95 245.92L185.35 245.92Z" fill="none" stroke="#a8102a" stroke-width="1.2"/><path d="M196.46 238.75L199.76 245.55L193.16 245.55Z" fill="none" stroke="#a8102a" stroke-width="1.2"/><path d="M204.28 234.13L207.58 240.93L200.98 240.93Z" fill="none" stroke="#a8102a" stroke-width="1.2"/><path d="M212.10 229.76L215.40 236.56L208.80 236.56Z" fill="none" stroke="#a8102a" stroke-width="1.2"/><path d="M219.92 231.75L223.22 238.55L216.62 238.55Z" fill="none" stroke="#a8102a" stroke-width="1.2"/><path d="M227.73 228.52L231.03 235.32L224.43 235.32Z" fill="none" stroke="#a8102a" stroke-width="1.2"/><path d="M235.55 221.73L238.85 228.53L232.25 228.53Z" fill="none" stroke="#a8102a" stroke-width="1.2"/><path d="M243.37 219.44L246.67 226.24L240.07 226.24Z" fill="none" stroke="#a8102a" stroke-width="1.2"/><path d="M251.18 215.25L254.48 222.05L247.88 222.05Z" fill="none" stroke="#a8102a" stroke-width="1.2"/><path d="M259.00 216.85L262.30 223.65L255.70 223.65Z" fill="none" stroke="#a8102a" stroke-width="1.2"/><path d="M266.82 210.55L270.12 217.35L263.52 217.35Z" fill="none" stroke="#a8102a" stroke-width="1.2"/><path d="M274.63 206.95L277.93 213.75L271.33 213.75Z" fill="none" stroke="#a8102a" stroke-width="1.2"/><path d="M282.45 201.06L285.75 207.86L279.15 207.86Z" fill="none" stroke="#a8102a" stroke-width="1.2"/><path d="M290.27 194.75L293.57 201.55L286.97 201.55Z" fill="none" stroke="#a8102a" stroke-width="1.2"/><path d="M298.09 191.24L301.39 198.04L294.79 198.04Z" fill="none" stroke="#a8102a" stroke-width="1.2"/><path d="M305.90 185.53L309.20 192.33L302.60 192.33Z" fill="none" stroke="#a8102a" stroke-width="1.2"/><path d="M313.72 178.73L317.02 185.53L310.42 185.53Z" fill="none" stroke="#a8102a" stroke-width="1.2"/><path d="M321.54 174.72L324.84 181.52L318.24 181.52Z" fill="none" stroke="#a8102a" stroke-width="1.2"/><path d="M329.35 165.85L332.65 172.65L326.05 172.65Z" fill="none" stroke="#a8102a" stroke-width="1.2"/><path d="M337.17 159.03L340.47 165.83L333.87 165.83Z" fill="none" stroke="#a8102a" stroke-width="1.2"/><path d="M344.99 149.72L348.29 156.52L341.69 156.52Z" fill="none" stroke="#a8102a" stroke-width="1.2"/><path d="M352.80 142.26L356.10 149.06L349.50 149.06Z" fill="none" stroke="#a8102a" stroke-width="1.2"/><path d="M360.62 129.03L363.92 135.83L357.32 135.83Z" fill="none" stroke="#a8102a" stroke-width="1.2"/>
</g>
<g clip-path="url(#cr)">
<path d="M55.76 400.76V421.24M54.26 400.76h3M54.26 421.24h3M63.58 394.78V414.30M62.08 394.78h3M62.08 414.30h3M71.39 389.91V408.47M69.89 389.91h3M69.89 408.47h3M79.21 375.74V393.34M77.71 375.74h3M77.71 393.34h3M87.03 407.59V424.87M85.53 407.59h3M85.53 424.87h3M94.84 399.53V416.49M93.34 399.53h3M93.34 416.49h3M102.66 406.08V422.72M101.16 406.08h3M101.16 422.72h3M110.48 372.12V388.44M108.98 372.12h3M108.98 388.44h3M118.29 371.07V387.07M116.79 371.07h3M116.79 387.07h3M126.11 387.47V403.02M124.61 387.47h3M124.61 403.02h3M133.93 419.38V434.47M132.43 419.38h3M132.43 434.47h3M141.75 413.49V428.12M140.25 413.49h3M140.25 428.12h3M149.56 401.40V415.57M148.06 401.40h3M148.06 415.57h3M157.38 390.21V403.93M155.88 390.21h3M155.88 403.93h3M165.20 379.72V392.98M163.70 379.72h3M163.70 392.98h3M173.01 381.43V394.23M171.51 381.43h3M171.51 394.23h3M180.83 386.27V398.56M179.33 386.27h3M179.33 398.56h3M188.65 396.41V408.19M187.15 396.41h3M187.15 408.19h3M196.46 402.05V413.31M194.96 402.05h3M194.96 413.31h3M204.28 393.89V404.64M202.78 393.89h3M202.78 404.64h3M212.10 401.03V411.27M210.60 401.03h3M210.60 411.27h3M219.92 406.57V416.30M218.42 406.57h3M218.42 416.30h3M227.73 392.31V401.53M226.23 392.31h3M226.23 401.53h3M235.55 391.06V399.76M234.05 391.06h3M234.05 399.76h3M243.37 393.60V401.79M241.87 393.60h3M241.87 401.79h3M251.18 407.54V415.22M249.68 407.54h3M249.68 415.22h3M259.00 407.76V414.99M257.50 407.76h3M257.50 414.99h3M266.82 404.18V410.95M265.32 404.18h3M265.32 410.95h3M274.63 404.40V410.71M273.13 404.40h3M273.13 410.71h3" stroke="#a8102a" stroke-width="1" fill="none"/>
<path d="M55.76 410.40L63.58 404.00L71.39 398.70L79.21 384.10L87.03 415.80L94.84 407.60L102.66 414.00L110.48 379.90L118.29 378.70L126.11 394.90L133.93 426.60L141.75 420.50L149.56 408.20L157.38 396.80L165.20 386.10L173.01 387.60L180.83 392.20L188.65 402.10L196.46 407.50L204.28 399.10L212.10 406.00L219.92 411.30L227.73 396.80L235.55 395.30L243.37 397.60L251.18 411.30L259.00 411.30L266.82 407.50L274.63 407.50L282.45 406.00L290.27 403.70L298.09 405.20L305.90 404.40L313.72 404.40L321.54 402.10L329.35 407.50L337.17 404.40L344.99 402.10L352.80 406.00L360.62 402.90" stroke="#a8102a" stroke-width="1" fill="none"/>
<path d="M55.76 406.80L59.06 413.60L52.46 413.60Z" fill="none" stroke="#a8102a" stroke-width="1.2"/><path d="M63.58 400.40L66.88 407.20L60.28 407.20Z" fill="none" stroke="#a8102a" stroke-width="1.2"/><path d="M71.39 395.10L74.69 401.90L68.09 401.90Z" fill="none" stroke="#a8102a" stroke-width="1.2"/><path d="M79.21 380.50L82.51 387.30L75.91 387.30Z" fill="none" stroke="#a8102a" stroke-width="1.2"/><path d="M87.03 412.20L90.33 419.00L83.73 419.00Z" fill="none" stroke="#a8102a" stroke-width="1.2"/><path d="M94.84 404.00L98.14 410.80L91.54 410.80Z" fill="none" stroke="#a8102a" stroke-width="1.2"/><path d="M102.66 410.40L105.96 417.20L99.36 417.20Z" fill="none" stroke="#a8102a" stroke-width="1.2"/><path d="M110.48 376.30L113.78 383.10L107.18 383.10Z" fill="none" stroke="#a8102a" stroke-width="1.2"/><path d="M118.29 375.10L121.59 381.90L114.99 381.90Z" fill="none" stroke="#a8102a" stroke-width="1.2"/><path d="M126.11 391.30L129.41 398.10L122.81 398.10Z" fill="none" stroke="#a8102a" stroke-width="1.2"/><path d="M133.93 423.00L137.23 429.80L130.63 429.80Z" fill="none" stroke="#a8102a" stroke-width="1.2"/><path d="M141.75 416.90L145.05 423.70L138.45 423.70Z" fill="none" stroke="#a8102a" stroke-width="1.2"/><path d="M149.56 404.60L152.86 411.40L146.26 411.40Z" fill="none" stroke="#a8102a" stroke-width="1.2"/><path d="M157.38 393.20L160.68 400.00L154.08 400.00Z" fill="none" stroke="#a8102a" stroke-width="1.2"/><path d="M165.20 382.50L168.50 389.30L161.90 389.30Z" fill="none" stroke="#a8102a" stroke-width="1.2"/><path d="M173.01 384.00L176.31 390.80L169.71 390.80Z" fill="none" stroke="#a8102a" stroke-width="1.2"/><path d="M180.83 388.60L184.13 395.40L177.53 395.40Z" fill="none" stroke="#a8102a" stroke-width="1.2"/><path d="M188.65 398.50L191.95 405.30L185.35 405.30Z" fill="none" stroke="#a8102a" stroke-width="1.2"/><path d="M196.46 403.90L199.76 410.70L193.16 410.70Z" fill="none" stroke="#a8102a" stroke-width="1.2"/><path d="M204.28 395.50L207.58 402.30L200.98 402.30Z" fill="none" stroke="#a8102a" stroke-width="1.2"/><path d="M212.10 402.40L215.40 409.20L208.80 409.20Z" fill="none" stroke="#a8102a" stroke-width="1.2"/><path d="M219.92 407.70L223.22 414.50L216.62 414.50Z" fill="none" stroke="#a8102a" stroke-width="1.2"/><path d="M227.73 393.20L231.03 400.00L224.43 400.00Z" fill="none" stroke="#a8102a" stroke-width="1.2"/><path d="M235.55 391.70L238.85 398.50L232.25 398.50Z" fill="none" stroke="#a8102a" stroke-width="1.2"/><path d="M243.37 394.00L246.67 400.80L240.07 400.80Z" fill="none" stroke="#a8102a" stroke-width="1.2"/><path d="M251.18 407.70L254.48 414.50L247.88 414.50Z" fill="none" stroke="#a8102a" stroke-width="1.2"/><path d="M259.00 407.70L262.30 414.50L255.70 414.50Z" fill="none" stroke="#a8102a" stroke-width="1.2"/><path d="M266.82 403.90L270.12 410.70L263.52 410.70Z" fill="none" stroke="#a8102a" stroke-width="1.2"/><path d="M274.63 403.90L277.93 410.70L271.33 410.70Z" fill="none" stroke="#a8102a" stroke-width="1.2"/><path d="M282.45 402.40L285.75 409.20L279.15 409.20Z" fill="none" stroke="#a8102a" stroke-width="1.2"/><path d="M290.27 400.10L293.57 406.90L286.97 406.90Z" fill="none" stroke="#a8102a" stroke-width="1.2"/><path d="M298.09 401.60L301.39 408.40L294.79 408.40Z" fill="none" stroke="#a8102a" stroke-width="1.2"/><path d="M305.90 400.80L309.20 407.60L302.60 407.60Z" fill="none" stroke="#a8102a" stroke-width="1.2"/><path d="M313.72 400.80L317.02 407.60L310.42 407.60Z" fill="none" stroke="#a8102a" stroke-width="1.2"/><path d="M321.54 398.50L324.84 405.30L318.24 405.30Z" fill="none" stroke="#a8102a" stroke-width="1.2"/><path d="M329.35 403.90L332.65 410.70L326.05 410.70Z" fill="none" stroke="#a8102a" stroke-width="1.2"/><path d="M337.17 400.80L340.47 407.60L333.87 407.60Z" fill="none" stroke="#a8102a" stroke-width="1.2"/><path d="M344.99 398.50L348.29 405.30L341.69 405.30Z" fill="none" stroke="#a8102a" stroke-width="1.2"/><path d="M352.80 402.40L356.10 409.20L349.50 409.20Z" fill="none" stroke="#a8102a" stroke-width="1.2"/><path d="M360.62 399.30L363.92 406.10L357.32 406.10Z" fill="none" stroke="#a8102a" stroke-width="1.2"/>
</g>
<g clip-path="url(#cm)">
<path d="M55.76 257.81V267.93M54.26 257.81h3M54.26 267.93h3M63.58 264.32V273.97M62.08 264.32h3M62.08 273.97h3M71.39 265.82V274.99M69.89 265.82h3M69.89 274.99h3M79.21 269.83V278.52M77.71 269.83h3M77.71 278.52h3M87.03 266.09V274.63M85.53 266.09h3M85.53 274.63h3M94.84 259.26V267.64M93.34 259.26h3M93.34 267.64h3M102.66 267.63V275.86M101.16 267.63h3M101.16 275.86h3M110.48 264.60V272.67M108.98 264.60h3M108.98 272.67h3M118.29 266.97V274.88M116.79 266.97h3M116.79 274.88h3M126.11 262.47V270.15M124.61 262.47h3M124.61 270.15h3M133.93 258.77V266.23M132.43 258.77h3M132.43 266.23h3M141.75 262.67V269.90M140.25 262.67h3M140.25 269.90h3M149.56 261.28V268.28M148.06 261.28h3M148.06 268.28h3M157.38 265.18V271.95M155.88 265.18h3M155.88 271.95h3M165.20 255.68V262.23M163.70 255.68h3M163.70 262.23h3M173.01 254.28V260.61M171.51 254.28h3M171.51 260.61h3M180.83 254.92V260.99M179.33 254.92h3M179.33 260.99h3M188.65 256.01V261.83M187.15 256.01h3M187.15 261.83h3M196.46 254.63V260.19M194.96 254.63h3M194.96 260.19h3M204.28 249.35V254.66M202.78 249.35h3M202.78 254.66h3M212.10 249.46V254.52M210.60 249.46h3M210.60 254.52h3M219.92 250.51V255.31M218.42 250.51h3M218.42 255.31h3M227.73 246.17V250.72M226.23 246.17h3M226.23 250.72h3" stroke="#ff7d2d" stroke-width="1" fill="none" stroke-dasharray="3,2,1,2"/>
<path d="M55.76 262.50L63.58 268.81L71.39 270.10L79.21 273.90L87.03 270.10L94.84 263.20L102.66 271.50L110.48 268.40L118.29 270.70L126.11 266.10L133.93 262.30L141.75 266.10L149.56 264.60L157.38 268.40L165.20 258.80L173.01 257.30L180.83 257.82L188.65 258.80L196.46 257.30L204.28 251.90L212.10 251.90L219.92 252.83L227.73 248.37L235.55 243.00L243.37 238.40L251.18 234.60L259.00 233.90L266.82 230.00L274.63 224.20L282.45 220.20L290.27 214.20L298.09 211.10L305.90 201.20L313.72 194.40L321.54 186.00L329.35 177.50L337.17 168.30L344.99 154.60L352.80 141.60L360.62 115.70" stroke="#ff7d2d" stroke-width="1" fill="none" stroke-dasharray="3,2,1,2"/>
<rect x="53.46" y="260.10" width="4.6" height="4.8" rx="1.3" fill="#ff7d2d"/><rect x="61.28" y="266.41" width="4.6" height="4.8" rx="1.3" fill="#ff7d2d"/><rect x="69.09" y="267.70" width="4.6" height="4.8" rx="1.3" fill="#ff7d2d"/><rect x="76.91" y="271.50" width="4.6" height="4.8" rx="1.3" fill="#ff7d2d"/><rect x="84.73" y="267.70" width="4.6" height="4.8" rx="1.3" fill="#ff7d2d"/><rect x="92.54" y="260.80" width="4.6" height="4.8" rx="1.3" fill="#ff7d2d"/><rect x="100.36" y="269.10" width="4.6" height="4.8" rx="1.3" fill="#ff7d2d"/><rect x="108.18" y="266.00" width="4.6" height="4.8" rx="1.3" fill="#ff7d2d"/><rect x="115.99" y="268.30" width="4.6" height="4.8" rx="1.3" fill="#ff7d2d"/><rect x="123.81" y="263.70" width="4.6" height="4.8" rx="1.3" fill="#ff7d2d"/><rect x="131.63" y="259.90" width="4.6" height="4.8" rx="1.3" fill="#ff7d2d"/><rect x="139.45" y="263.70" width="4.6" height="4.8" rx="1.3" fill="#ff7d2d"/><rect x="147.26" y="262.20" width="4.6" height="4.8" rx="1.3" fill="#ff7d2d"/><rect x="155.08" y="266.00" width="4.6" height="4.8" rx="1.3" fill="#ff7d2d"/><rect x="162.90" y="256.40" width="4.6" height="4.8" rx="1.3" fill="#ff7d2d"/><rect x="170.71" y="254.90" width="4.6" height="4.8" rx="1.3" fill="#ff7d2d"/><rect x="178.53" y="255.42" width="4.6" height="4.8" rx="1.3" fill="#ff7d2d"/><rect x="186.35" y="256.40" width="4.6" height="4.8" rx="1.3" fill="#ff7d2d"/><rect x="194.16" y="254.90" width="4.6" height="4.8" rx="1.3" fill="#ff7d2d"/><rect x="201.98" y="249.50" width="4.6" height="4.8" rx="1.3" fill="#ff7d2d"/><rect x="209.80" y="249.50" width="4.6" height="4.8" rx="1.3" fill="#ff7d2d"/><rect x="217.62" y="250.43" width="4.6" height="4.8" rx="1.3" fill="#ff7d2d"/><rect x="225.43" y="245.97" width="4.6" height="4.8" rx="1.3" fill="#ff7d2d"/><rect x="233.25" y="240.60" width="4.6" height="4.8" rx="1.3" fill="#ff7d2d"/><rect x="241.07" y="236.00" width="4.6" height="4.8" rx="1.3" fill="#ff7d2d"/><rect x="248.88" y="232.20" width="4.6" height="4.8" rx="1.3" fill="#ff7d2d"/><rect x="256.70" y="231.50" width="4.6" height="4.8" rx="1.3" fill="#ff7d2d"/><rect x="264.52" y="227.60" width="4.6" height="4.8" rx="1.3" fill="#ff7d2d"/><rect x="272.33" y="221.80" width="4.6" height="4.8" rx="1.3" fill="#ff7d2d"/><rect x="280.15" y="217.80" width="4.6" height="4.8" rx="1.3" fill="#ff7d2d"/><rect x="287.97" y="211.80" width="4.6" height="4.8" rx="1.3" fill="#ff7d2d"/><rect x="295.79" y="208.70" width="4.6" height="4.8" rx="1.3" fill="#ff7d2d"/><rect x="303.60" y="198.80" width="4.6" height="4.8" rx="1.3" fill="#ff7d2d"/><rect x="311.42" y="192.00" width="4.6" height="4.8" rx="1.3" fill="#ff7d2d"/><rect x="319.24" y="183.60" width="4.6" height="4.8" rx="1.3" fill="#ff7d2d"/><rect x="327.05" y="175.10" width="4.6" height="4.8" rx="1.3" fill="#ff7d2d"/><rect x="334.87" y="165.90" width="4.6" height="4.8" rx="1.3" fill="#ff7d2d"/><rect x="342.69" y="152.20" width="4.6" height="4.8" rx="1.3" fill="#ff7d2d"/><rect x="350.50" y="139.20" width="4.6" height="4.8" rx="1.3" fill="#ff7d2d"/><rect x="358.32" y="113.30" width="4.6" height="4.8" rx="1.3" fill="#ff7d2d"/>
</g>
<g clip-path="url(#cr)">
<path d="M55.76 392.14V417.74M54.26 392.14h3M54.26 417.74h3M63.58 405.15V429.55M62.08 405.15h3M62.08 429.55h3M71.39 409.67V432.87M69.89 409.67h3M69.89 432.87h3M79.21 414.89V436.89M77.71 414.89h3M77.71 436.89h3M87.03 428.57V450.17M85.53 428.57h3M85.53 450.17h3M94.84 401.74V422.94M93.34 401.74h3M93.34 422.94h3M102.66 417.72V438.52M101.16 417.72h3M101.16 438.52h3M110.48 400.39V420.79M108.98 400.39h3M108.98 420.79h3M118.29 403.47V423.47M116.79 403.47h3M116.79 423.47h3M126.11 412.53V431.95M124.61 412.53h3M124.61 431.95h3M133.93 424.08V442.94M132.43 424.08h3M132.43 442.94h3M141.75 430.04V448.32M140.25 430.04h3M140.25 448.32h3M149.56 428.39V446.11M148.06 428.39h3M148.06 446.11h3M157.38 431.35V448.49M155.88 431.35h3M155.88 448.49h3M165.20 414.71V431.28M163.70 414.71h3M163.70 431.28h3M173.01 408.17V424.17M171.51 408.17h3M171.51 424.17h3M180.83 411.46V426.82M179.33 411.46h3M179.33 426.82h3M188.65 436.95V451.67M187.15 436.95h3M187.15 451.67h3M196.46 439.54V453.62M194.96 439.54h3M194.96 453.62h3M204.28 429.14V442.58M202.78 429.14h3M202.78 442.58h3M212.10 448.53V461.33M210.60 448.53h3M210.60 461.33h3M219.92 449.63V461.79M218.42 449.63h3M218.42 461.79h3M227.73 432.33V443.85M226.23 432.33h3M226.23 443.85h3M235.55 437.93V448.81M234.05 437.93h3M234.05 448.81h3M243.37 432.93V443.17M241.87 432.93h3M241.87 443.17h3M251.18 446.93V456.53M249.68 446.93h3M249.68 456.53h3M259.00 440.40V449.43M257.50 440.40h3M257.50 449.43h3M266.82 442.97V451.43M265.32 442.97h3M265.32 451.43h3M274.63 441.65V449.53M273.13 441.65h3M273.13 449.53h3M282.45 439.62V446.93M280.95 439.62h3M280.95 446.93h3M290.27 441.49V448.24M288.77 441.49h3M288.77 448.24h3M298.09 444.07V450.24M296.59 444.07h3M296.59 450.24h3M305.90 433.64V439.24M304.40 433.64h3M304.40 439.24h3M313.72 433.06V438.43M312.22 433.06h3M312.22 438.43h3M321.54 419.47V424.61M320.04 419.47h3M320.04 424.61h3M329.35 426.48V431.39M327.85 426.48h3M327.85 431.39h3M337.17 417.39V422.07M335.67 417.39h3M335.67 422.07h3M344.99 403.80V408.26M343.49 403.80h3M343.49 408.26h3M352.80 389.41V393.64M351.30 389.41h3M351.30 393.64h3M360.62 359.72V363.72M359.12 359.72h3M359.12 363.72h3" stroke="#ff7d2d" stroke-width="1" fill="none" stroke-dasharray="3,2,1,2"/>
<path d="M55.76 404.00L63.58 416.50L71.39 420.50L79.21 425.20L87.03 438.70L94.84 411.70L102.66 427.50L110.48 410.00L118.29 412.90L126.11 421.70L133.93 433.00L141.75 438.70L149.56 436.80L157.38 439.50L165.20 422.60L173.01 415.80L180.83 418.80L188.65 444.00L196.46 446.30L204.28 435.60L212.10 454.70L219.92 455.50L227.73 437.90L235.55 443.20L243.37 437.90L251.18 451.60L259.00 444.80L266.82 447.10L274.63 445.50L282.45 443.20L290.27 444.80L298.09 447.10L305.90 436.40L313.72 435.70L321.54 422.00L329.35 428.90L337.17 419.70L344.99 406.00L352.80 391.50L360.62 361.70" stroke="#ff7d2d" stroke-width="1" fill="none" stroke-dasharray="3,2,1,2"/>
<rect x="53.46" y="401.60" width="4.6" height="4.8" rx="1.3" fill="#ff7d2d"/><rect x="61.28" y="414.10" width="4.6" height="4.8" rx="1.3" fill="#ff7d2d"/><rect x="69.09" y="418.10" width="4.6" height="4.8" rx="1.3" fill="#ff7d2d"/><rect x="76.91" y="422.80" width="4.6" height="4.8" rx="1.3" fill="#ff7d2d"/><rect x="84.73" y="436.30" width="4.6" height="4.8" rx="1.3" fill="#ff7d2d"/><rect x="92.54" y="409.30" width="4.6" height="4.8" rx="1.3" fill="#ff7d2d"/><rect x="100.36" y="425.10" width="4.6" height="4.8" rx="1.3" fill="#ff7d2d"/><rect x="108.18" y="407.60" width="4.6" height="4.8" rx="1.3" fill="#ff7d2d"/><rect x="115.99" y="410.50" width="4.6" height="4.8" rx="1.3" fill="#ff7d2d"/><rect x="123.81" y="419.30" width="4.6" height="4.8" rx="1.3" fill="#ff7d2d"/><rect x="131.63" y="430.60" width="4.6" height="4.8" rx="1.3" fill="#ff7d2d"/><rect x="139.45" y="436.30" width="4.6" height="4.8" rx="1.3" fill="#ff7d2d"/><rect x="147.26" y="434.40" width="4.6" height="4.8" rx="1.3" fill="#ff7d2d"/><rect x="155.08" y="437.10" width="4.6" height="4.8" rx="1.3" fill="#ff7d2d"/><rect x="162.90" y="420.20" width="4.6" height="4.8" rx="1.3" fill="#ff7d2d"/><rect x="170.71" y="413.40" width="4.6" height="4.8" rx="1.3" fill="#ff7d2d"/><rect x="178.53" y="416.40" width="4.6" height="4.8" rx="1.3" fill="#ff7d2d"/><rect x="186.35" y="441.60" width="4.6" height="4.8" rx="1.3" fill="#ff7d2d"/><rect x="194.16" y="443.90" width="4.6" height="4.8" rx="1.3" fill="#ff7d2d"/><rect x="201.98" y="433.20" width="4.6" height="4.8" rx="1.3" fill="#ff7d2d"/><rect x="209.80" y="452.30" width="4.6" height="4.8" rx="1.3" fill="#ff7d2d"/><rect x="217.62" y="453.10" width="4.6" height="4.8" rx="1.3" fill="#ff7d2d"/><rect x="225.43" y="435.50" width="4.6" height="4.8" rx="1.3" fill="#ff7d2d"/><rect x="233.25" y="440.80" width="4.6" height="4.8" rx="1.3" fill="#ff7d2d"/><rect x="241.07" y="435.50" width="4.6" height="4.8" rx="1.3" fill="#ff7d2d"/><rect x="248.88" y="449.20" width="4.6" height="4.8" rx="1.3" fill="#ff7d2d"/><rect x="256.70" y="442.40" width="4.6" height="4.8" rx="1.3" fill="#ff7d2d"/><rect x="264.52" y="444.70" width="4.6" height="4.8" rx="1.3" fill="#ff7d2d"/><rect x="272.33" y="443.10" width="4.6" height="4.8" rx="1.3" fill="#ff7d2d"/><rect x="280.15" y="440.80" width="4.6" height="4.8" rx="1.3" fill="#ff7d2d"/><rect x="287.97" y="442.40" width="4.6" height="4.8" rx="1.3" fill="#ff7d2d"/><rect x="295.79" y="444.70" width="4.6" height="4.8" rx="1.3" fill="#ff7d2d"/><rect x="303.60" y="434.00" width="4.6" height="4.8" rx="1.3" fill="#ff7d2d"/><rect x="311.42" y="433.30" width="4.6" height="4.8" rx="1.3" fill="#ff7d2d"/><rect x="319.24" y="419.60" width="4.6" height="4.8" rx="1.3" fill="#ff7d2d"/><rect x="327.05" y="426.50" width="4.6" height="4.8" rx="1.3" fill="#ff7d2d"/><rect x="334.87" y="417.30" width="4.6" height="4.8" rx="1.3" fill="#ff7d2d"/><rect x="342.69" y="403.60" width="4.6" height="4.8" rx="1.3" fill="#ff7d2d"/><rect x="350.50" y="389.10" width="4.6" height="4.8" rx="1.3" fill="#ff7d2d"/><rect x="358.32" y="359.30" width="4.6" height="4.8" rx="1.3" fill="#ff7d2d"/>
</g>
<g clip-path="url(#cm)">
<path d="M55.76 265.41V275.53M54.26 265.41h3M54.26 275.53h3M63.58 263.31V272.96M62.08 263.31h3M62.08 272.96h3M71.39 260.52V269.69M69.89 260.52h3M69.89 269.69h3M79.21 253.83V262.52M77.71 253.83h3M77.71 262.52h3M87.03 251.59V260.13M85.53 251.59h3M85.53 260.13h3M94.84 252.46V260.84M93.34 252.46h3M93.34 260.84h3M102.66 247.73V255.96M101.16 247.73h3M101.16 255.96h3M110.48 251.70V259.77M108.98 251.70h3M108.98 259.77h3M118.29 241.77V249.68M116.79 241.77h3M116.79 249.68h3M126.11 249.57V257.25M124.61 249.57h3M124.61 257.25h3M133.93 242.77V250.23M132.43 242.77h3M132.43 250.23h3M141.75 240.57V247.80M140.25 240.57h3M140.25 247.80h3M149.56 242.18V249.18M148.06 242.18h3M148.06 249.18h3M157.38 237.88V244.65M155.88 237.88h3M155.88 244.65h3M165.20 232.78V239.33M163.70 232.78h3M163.70 239.33h3M173.01 233.58V239.91M171.51 233.58h3M171.51 239.91h3M180.83 229.90V235.97M179.33 229.90h3M179.33 235.97h3M188.65 230.81V236.63M187.15 230.81h3M187.15 236.63h3M196.46 228.63V234.19M194.96 228.63h3M194.96 234.19h3M204.28 227.95V233.26M202.78 227.95h3M202.78 233.26h3M212.10 226.31V231.37M210.60 226.31h3M210.60 231.37h3M219.92 217.08V221.89M218.42 217.08h3M218.42 221.89h3M227.73 214.90V219.45M226.23 214.90h3M226.23 219.45h3" stroke="#0000dd" stroke-width="1" fill="none"/>
<path d="M55.76 270.10L63.58 267.80L71.39 264.80L79.21 257.90L87.03 255.60L94.84 256.40L102.66 251.60L110.48 255.50L118.29 245.50L126.11 253.20L133.93 246.30L141.75 244.00L149.56 245.50L157.38 241.10L165.20 235.90L173.01 236.60L180.83 232.80L188.65 233.60L196.46 231.30L204.28 230.50L212.10 228.75L219.92 219.40L227.73 217.10L235.55 220.90L243.37 214.80L251.18 207.90L259.00 204.80L266.82 202.65L274.63 201.20L282.45 197.40L290.27 189.00L298.09 185.20L305.90 183.70L313.72 175.30L321.54 169.85L329.35 161.50L337.17 154.60L344.99 147.70L352.80 137.10L360.62 127.10" stroke="#0000dd" stroke-width="1.3" fill="none"/>
<path d="M55.76 266.70L58.76 272.80L52.76 272.80Z" fill="#0000dd"/><path d="M63.58 264.40L66.58 270.50L60.58 270.50Z" fill="#0000dd"/><path d="M71.39 261.40L74.39 267.50L68.39 267.50Z" fill="#0000dd"/><path d="M79.21 254.50L82.21 260.60L76.21 260.60Z" fill="#0000dd"/><path d="M87.03 252.20L90.03 258.30L84.03 258.30Z" fill="#0000dd"/><path d="M94.84 253.00L97.84 259.10L91.84 259.10Z" fill="#0000dd"/><path d="M102.66 248.20L105.66 254.30L99.66 254.30Z" fill="#0000dd"/><path d="M110.48 252.10L113.48 258.20L107.48 258.20Z" fill="#0000dd"/><path d="M118.29 242.10L121.29 248.20L115.29 248.20Z" fill="#0000dd"/><path d="M126.11 249.80L129.11 255.90L123.11 255.90Z" fill="#0000dd"/><path d="M133.93 242.90L136.93 249.00L130.93 249.00Z" fill="#0000dd"/><path d="M141.75 240.60L144.75 246.70L138.75 246.70Z" fill="#0000dd"/><path d="M149.56 242.10L152.56 248.20L146.56 248.20Z" fill="#0000dd"/><path d="M157.38 237.70L160.38 243.80L154.38 243.80Z" fill="#0000dd"/><path d="M165.20 232.50L168.20 238.60L162.20 238.60Z" fill="#0000dd"/><path d="M173.01 233.20L176.01 239.30L170.01 239.30Z" fill="#0000dd"/><path d="M180.83 229.40L183.83 235.50L177.83 235.50Z" fill="#0000dd"/><path d="M188.65 230.20L191.65 236.30L185.65 236.30Z" fill="#0000dd"/><path d="M196.46 227.90L199.46 234.00L193.46 234.00Z" fill="#0000dd"/><path d="M204.28 227.10L207.28 233.20L201.28 233.20Z" fill="#0000dd"/><path d="M212.10 225.35L215.10 231.45L209.10 231.45Z" fill="#0000dd"/><path d="M219.92 216.00L222.92 222.10L216.92 222.10Z" fill="#0000dd"/><path d="M227.73 213.70L230.73 219.80L224.73 219.80Z" fill="#0000dd"/><path d="M235.55 217.50L238.55 223.60L232.55 223.60Z" fill="#0000dd"/><path d="M243.37 211.40L246.37 217.50L240.37 217.50Z" fill="#0000dd"/><path d="M251.18 204.50L254.18 210.60L248.18 210.60Z" fill="#0000dd"/><path d="M259.00 201.40L262.00 207.50L256.00 207.50Z" fill="#0000dd"/><path d="M266.82 199.25L269.82 205.35L263.82 205.35Z" fill="#0000dd"/><path d="M274.63 197.80L277.63 203.90L271.63 203.90Z" fill="#0000dd"/><path d="M282.45 194.00L285.45 200.10L279.45 200.10Z" fill="#0000dd"/><path d="M290.27 185.60L293.27 191.70L287.27 191.70Z" fill="#0000dd"/><path d="M298.09 181.80L301.09 187.90L295.09 187.90Z" fill="#0000dd"/><path d="M305.90 180.30L308.90 186.40L302.90 186.40Z" fill="#0000dd"/><path d="M313.72 171.90L316.72 178.00L310.72 178.00Z" fill="#0000dd"/><path d="M321.54 166.45L324.54 172.55L318.54 172.55Z" fill="#0000dd"/><path d="M329.35 158.10L332.35 164.20L326.35 164.20Z" fill="#0000dd"/><path d="M337.17 151.20L340.17 157.30L334.17 157.30Z" fill="#0000dd"/><path d="M344.99 144.30L347.99 150.40L341.99 150.40Z" fill="#0000dd"/><path d="M352.80 133.70L355.80 139.80L349.80 139.80Z" fill="#0000dd"/><path d="M360.62 123.70L363.62 129.80L357.62 129.80Z" fill="#0000dd"/>
</g>
<g clip-path="url(#cr)">
<path d="M55.76 409.54V435.14M54.26 409.54h3M54.26 435.14h3M63.58 402.05V426.45M62.08 402.05h3M62.08 426.45h3M71.39 394.37V417.57M69.89 394.37h3M69.89 417.57h3M79.21 373.79V395.79M77.71 373.79h3M77.71 395.79h3M87.03 391.77V413.37M85.53 391.77h3M85.53 413.37h3M94.84 384.74V405.94M93.34 384.74h3M93.34 405.94h3M102.66 367.12V387.92M101.16 367.12h3M101.16 387.92h3M110.48 367.89V388.29M108.98 367.89h3M108.98 388.29h3M118.29 341.67V361.67M116.79 341.67h3M116.79 361.67h3M126.11 381.23V400.65M124.61 381.23h3M124.61 400.65h3M133.93 382.58V401.44M132.43 382.58h3M132.43 401.44h3M141.75 374.44V392.72M140.25 374.44h3M140.25 392.72h3M149.56 379.09V396.81M148.06 379.09h3M148.06 396.81h3M157.38 362.75V379.89M155.88 362.75h3M155.88 379.89h3M165.20 350.81V367.38M163.70 350.81h3M163.70 367.38h3M173.01 349.17V365.17M171.51 349.17h3M171.51 365.17h3M180.83 348.26V363.62M179.33 348.26h3M179.33 363.62h3M188.65 370.65V385.37M187.15 370.65h3M187.15 385.37h3M196.46 371.74V385.82M194.96 371.74h3M194.96 385.82h3M204.28 373.54V386.98M202.78 373.54h3M202.78 386.98h3M212.10 387.63V400.43M210.60 387.63h3M210.60 400.43h3M219.92 365.03V377.19M218.42 365.03h3M218.42 377.19h3M227.73 353.13V364.65M226.23 353.13h3M226.23 364.65h3M235.55 375.53V386.41M234.05 375.53h3M234.05 386.41h3M243.37 370.53V380.77M241.87 370.53h3M241.87 380.77h3M251.18 378.43V388.03M249.68 378.43h3M249.68 388.03h3M259.00 368.00V377.03M257.50 368.00h3M257.50 377.03h3M266.82 374.37V382.83M265.32 374.37h3M265.32 382.83h3M274.63 380.05V387.93M273.13 380.05h3M273.13 387.93h3M282.45 382.52V389.83M280.95 382.52h3M280.95 389.83h3M290.27 375.99V382.74M288.77 375.99h3M288.77 382.74h3M298.09 376.97V383.14M296.59 376.97h3M296.59 383.14h3M305.90 386.44V392.04M304.40 386.44h3M304.40 392.04h3M313.72 383.46V388.83M312.22 383.46h3M312.22 388.83h3M321.54 377.47V382.61M320.04 377.47h3M320.04 382.61h3M329.35 383.68V388.59M327.85 383.68h3M327.85 388.59h3M337.17 380.79V385.47M335.67 380.79h3M335.67 385.47h3M344.99 384.70V389.16M343.49 384.70h3M343.49 389.16h3M352.80 385.61V389.84M351.30 385.61h3M351.30 389.84h3M360.62 385.72V389.72M359.12 385.72h3M359.12 389.72h3" stroke="#0000dd" stroke-width="1" fill="none"/>
<path d="M55.76 421.40L63.58 413.40L71.39 405.20L79.21 384.10L87.03 401.90L94.84 394.70L102.66 376.90L110.48 377.50L118.29 351.10L126.11 390.40L133.93 391.50L141.75 383.10L149.56 387.50L157.38 370.90L165.20 358.70L173.01 356.80L180.83 355.60L188.65 377.70L196.46 378.50L204.28 380.00L212.10 393.80L219.92 370.90L227.73 358.70L235.55 380.80L243.37 375.50L251.18 383.10L259.00 372.40L266.82 378.50L274.63 383.90L282.45 386.10L290.27 379.30L298.09 380.00L305.90 389.20L313.72 386.10L321.54 380.00L329.35 386.10L337.17 383.10L344.99 386.90L352.80 387.70L360.62 387.70" stroke="#0000dd" stroke-width="1.3" fill="none"/>
<path d="M55.76 418.00L58.76 424.10L52.76 424.10Z" fill="#0000dd"/><path d="M63.58 410.00L66.58 416.10L60.58 416.10Z" fill="#0000dd"/><path d="M71.39 401.80L74.39 407.90L68.39 407.90Z" fill="#0000dd"/><path d="M79.21 380.70L82.21 386.80L76.21 386.80Z" fill="#0000dd"/><path d="M87.03 398.50L90.03 404.60L84.03 404.60Z" fill="#0000dd"/><path d="M94.84 391.30L97.84 397.40L91.84 397.40Z" fill="#0000dd"/><path d="M102.66 373.50L105.66 379.60L99.66 379.60Z" fill="#0000dd"/><path d="M110.48 374.10L113.48 380.20L107.48 380.20Z" fill="#0000dd"/><path d="M118.29 347.70L121.29 353.80L115.29 353.80Z" fill="#0000dd"/><path d="M126.11 387.00L129.11 393.10L123.11 393.10Z" fill="#0000dd"/><path d="M133.93 388.10L136.93 394.20L130.93 394.20Z" fill="#0000dd"/><path d="M141.75 379.70L144.75 385.80L138.75 385.80Z" fill="#0000dd"/><path d="M149.56 384.10L152.56 390.20L146.56 390.20Z" fill="#0000dd"/><path d="M157.38 367.50L160.38 373.60L154.38 373.60Z" fill="#0000dd"/><path d="M165.20 355.30L168.20 361.40L162.20 361.40Z" fill="#0000dd"/><path d="M173.01 353.40L176.01 359.50L170.01 359.50Z" fill="#0000dd"/><path d="M180.83 352.20L183.83 358.30L177.83 358.30Z" fill="#0000dd"/><path d="M188.65 374.30L191.65 380.40L185.65 380.40Z" fill="#0000dd"/><path d="M196.46 375.10L199.46 381.20L193.46 381.20Z" fill="#0000dd"/><path d="M204.28 376.60L207.28 382.70L201.28 382.70Z" fill="#0000dd"/><path d="M212.10 390.40L215.10 396.50L209.10 396.50Z" fill="#0000dd"/><path d="M219.92 367.50L222.92 373.60L216.92 373.60Z" fill="#0000dd"/><path d="M227.73 355.30L230.73 361.40L224.73 361.40Z" fill="#0000dd"/><path d="M235.55 377.40L238.55 383.50L232.55 383.50Z" fill="#0000dd"/><path d="M243.37 372.10L246.37 378.20L240.37 378.20Z" fill="#0000dd"/><path d="M251.18 379.70L254.18 385.80L248.18 385.80Z" fill="#0000dd"/><path d="M259.00 369.00L262.00 375.10L256.00 375.10Z" fill="#0000dd"/><path d="M266.82 375.10L269.82 381.20L263.82 381.20Z" fill="#0000dd"/><path d="M274.63 380.50L277.63 386.60L271.63 386.60Z" fill="#0000dd"/><path d="M282.45 382.70L285.45 388.80L279.45 388.80Z" fill="#0000dd"/><path d="M290.27 375.90L293.27 382.00L287.27 382.00Z" fill="#0000dd"/><path d="M298.09 376.60L301.09 382.70L295.09 382.70Z" fill="#0000dd"/><path d="M305.90 385.80L308.90 391.90L302.90 391.90Z" fill="#0000dd"/><path d="M313.72 382.70L316.72 388.80L310.72 388.80Z" fill="#0000dd"/><path d="M321.54 376.60L324.54 382.70L318.54 382.70Z" fill="#0000dd"/><path d="M329.35 382.70L332.35 388.80L326.35 388.80Z" fill="#0000dd"/><path d="M337.17 379.70L340.17 385.80L334.17 385.80Z" fill="#0000dd"/><path d="M344.99 383.50L347.99 389.60L341.99 389.60Z" fill="#0000dd"/><path d="M352.80 384.30L355.80 390.40L349.80 390.40Z" fill="#0000dd"/><path d="M360.62 384.30L363.62 390.40L357.62 390.40Z" fill="#0000dd"/>
</g>
<line x1="63.9" y1="62.0" x2="88.5" y2="62.0" stroke="#b41a3c" stroke-width="1" stroke-dasharray="2.4,2.2"/>
<circle cx="76.40" cy="62.00" r="2.3" fill="none" stroke="#b41a3c" stroke-width="1.2"/>
<text x="94.6" y="65.6" font-size="10" textLength="71.8" lengthAdjust="spacingAndGlyphs">Pythia 6.428 345</text>
<line x1="63.9" y1="75.0" x2="88.5" y2="75.0" stroke="#cca762" stroke-width="1" stroke-dasharray="1,1"/>
<rect x="73.80" y="72.40" width="5.2" height="5.2" fill="none" stroke="#cca762" stroke-width="1"/>
<text x="94.6" y="78.6" font-size="10" textLength="71.8" lengthAdjust="spacingAndGlyphs">Pythia 6.428 346</text>
<line x1="63.9" y1="88.0" x2="88.5" y2="88.0" stroke="#a8102a" stroke-width="1" />
<path d="M76.40 84.40L79.70 91.20L73.10 91.20Z" fill="none" stroke="#a8102a" stroke-width="1.2"/>
<text x="94.6" y="91.6" font-size="10" textLength="71.8" lengthAdjust="spacingAndGlyphs">Pythia 6.428 370</text>
<line x1="63.9" y1="101.1" x2="88.5" y2="101.1" stroke="#ff7d2d" stroke-width="1" stroke-dasharray="3,2,1,2"/>
<rect x="74.10" y="98.70" width="4.6" height="4.8" rx="1.3" fill="#ff7d2d"/>
<text x="94.6" y="104.69999999999999" font-size="10" textLength="84.6" lengthAdjust="spacingAndGlyphs">Pythia 6.428 default</text>
<line x1="63.9" y1="114.3" x2="88.5" y2="114.3" stroke="#0000dd" stroke-width="1" />
<path d="M76.40 110.90L79.40 117.00L73.40 117.00Z" fill="#0000dd"/>
<text x="94.6" y="117.89999999999999" font-size="10" textLength="84.6" lengthAdjust="spacingAndGlyphs">Pythia 8.315 default</text>
</svg></body></html>
